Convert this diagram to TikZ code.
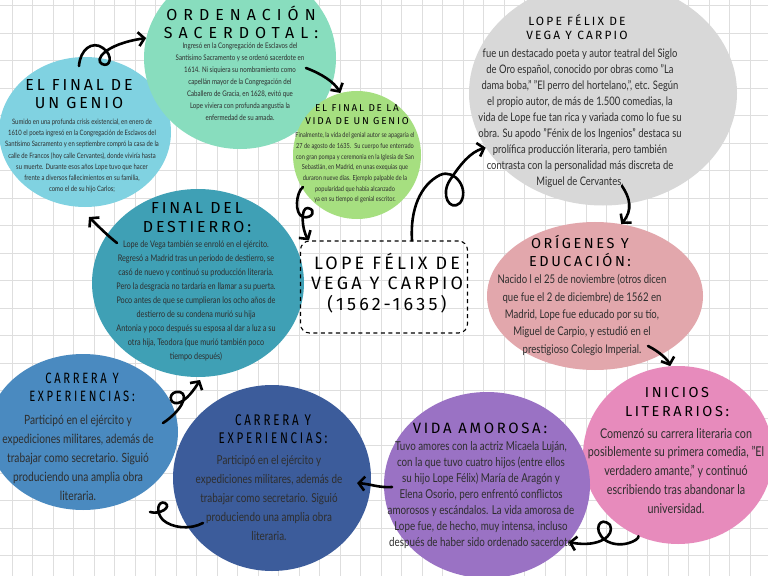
\documentclass[tikz,border=0pt]{standalone}
\usepackage{fontspec}
\setmainfont{Lato}[FakeStretch=0.8]
\newfontfamily\headfont{Fira Sans}[LetterSpace=18]
\usetikzlibrary{arrows.meta,shapes.geometric}

\definecolor{mintgreen}{HTML}{88DDBE}
\definecolor{skyblue}{HTML}{80D2E1}
\definecolor{limegreen}{HTML}{A6DF80}
\definecolor{softgray}{HTML}{D8D8D8}
\definecolor{tealblue}{HTML}{3FA0B5}
\definecolor{dustypink}{HTML}{E2A7AC}
\definecolor{rosepink}{HTML}{E78BBC}
\definecolor{steelblue}{HTML}{4A8AC0}
\definecolor{navyblue}{HTML}{3C5C9B}
\definecolor{lavender}{HTML}{9A72C4}
\definecolor{gridgray}{HTML}{DEDEDE}

\newcommand\setsz[2]{\fontsize{#1}{#2}\selectfont}

\tikzset{
  blob/.style={ellipse, inner sep=0pt},
  head/.style={align=center, inner sep=0pt, text=black},
  body/.style={align=center, inner sep=0pt, text=black!82},
  arr/.style={-{Straight Barb[length=6bp,width=14bp]}, line width=2.6bp, line cap=round, line join=round},
  mainbox/.style={draw, rounded corners=9bp, line width=1.1bp, dash pattern=on 4bp off 3.5bp,
    minimum width=167bp, minimum height=92bp, inner sep=0pt},
  gridline/.style={gridgray, line width=0.6bp}
}

\begin{document}
\begin{tikzpicture}[x=1bp, y=-1bp]
\useasboundingbox (0,0) rectangle (768,576);
\begin{scope}
\clip (0,0) rectangle (768,576);
\fill[white] (0,0) rectangle (768,576);

% grid paper
\foreach \gx in {0,...,38}
  \draw[gridline] ({-8.7+20.5*\gx},0) -- ++(0,576);
\foreach \gy in {0,...,20}
  \draw[gridline] (0,{5.7+27.5*\gy}) -- ++(768,0);

% blobs
\node[blob, fill=skyblue, minimum width=172bp, minimum height=150bp] (genio) at (85,132) {};
\node[blob, fill=mintgreen, minimum width=192bp, minimum height=182bp] (ordenacion) at (240,58) {};
\node[blob, fill=limegreen, minimum width=128bp, minimum height=128bp] (vidagenio) at (357,155) {};
\node[blob, fill=softgray, minimum width=268bp, minimum height=225bp] (lope) at (603,93) {};
\node[blob, fill=tealblue, minimum width=212bp, minimum height=188bp] (destierro) at (198,283) {};
\node[blob, fill=dustypink, minimum width=216bp, minimum height=148bp] (origenes) at (595,296) {};
\node[blob, fill=rosepink, minimum width=190bp, minimum height=178bp] (inicios) at (678,455) {};
\node[blob, fill=steelblue, minimum width=190bp, minimum height=156bp] (carreraA) at (83,432) {};
\node[blob, fill=navyblue, minimum width=198bp, minimum height=186bp] (carreraB) at (272,478) {};
\node[blob, fill=lavender, minimum width=206bp, minimum height=186bp] (amorosa) at (487,485) {};

\node[mainbox] (box) at (384,287) {};

% texts
\node[head, font={\headfont\addfontfeature{LetterSpace=38}\setsz{16}{18}}] (ordenacion-h) at (241,22) {ORDENACIÓN\\SACERDOTAL:};
\node[body, font=\setsz{7.7}{12}] (ordenacion-b) at (240,82) {Ingresó en la Congregación de Esclavos del\\
  Santísimo Sacramento y se ordenó sacerdote en\\ 1614. Ni siquiera su nombramiento como\\
  capellán mayor de la Congregación del\\ Caballero de Gracia, en 1628, evitó que\\
  Lope viviera con profunda angustia la\\ enfermedad de su amada.};

\node[head, font={\headfont\setsz{16}{18}}] (genio-h) at (79,94) {EL FINAL DE\\UN GENIO};
\node[body, font=\setsz{7.4}{11.3}] (genio-b) at (82,156) {Sumido en una profunda crisis existencial, en enero de\\
  1610 el poeta ingresó en la Congregación de Esclavos del\\ Santísimo Sacramento y en septiembre compró la casa de la\\
  calle de Francos (hoy calle Cervantes), donde viviría hasta\\ su muerte. Durante esos años Lope tuvo que hacer\\
  frente a diversos fallecimientos en su familia,\\ como el de su hijo Carlos;};

\node[head, font={\headfont\setsz{10}{13}}] (vidagenio-h) at (357,115) {EL FINAL DE LA\\VIDA DE UN GENIO};
\node[body, font=\setsz{7}{10.7}] (vidagenio-b) at (355,168) {Finalmente, la vida del genial autor se apagaría el\\
  27 de agosto de 1635. \ Su cuerpo fue enterrado\\ con gran pompa y ceremonia en la Iglesia de San\\
  Sebastián, en Madrid, en unas exequias que\\ duraron nueve días. Ejemplo palpable de la\\
  popularidad que había alcanzado\\ ya en su tiempo el genial escritor.};

\node[head, font={\headfont\setsz{12}{13.5}}] (lope-h) at (577,27) {LOPE FÉLIX DE\\VEGA Y CARPIO};
\node[body, font=\setsz{11.8}{16.1}] (lope-b) at (580,118) {fue un destacado poeta y autor teatral del Siglo\\
  de Oro español, conocido por obras como "La\\ dama boba," "El perro del hortelano,", etc. Según\\
  el propio autor, de más de 1.500 comedias, la\\ vida de Lope fue tan rica y variada como lo fue su\\
  obra. Su apodo "Fénix de los Ingenios" destaca su\\ prolífica producción literaria, pero también\\
  contrasta con la personalidad más discreta de\\ Miguel de Cervantes.};

\node[head, font={\headfont\setsz{16}{19}}] (destierro-h) at (197,218) {FINAL DEL\\DESTIERRO:};
\node[body, font=\setsz{9.1}{14}] (destierro-b) at (196,301) {Lope de Vega también se enroló en el ejército.\\
  Regresó a Madrid tras un periodo de destierro, se\\ casó de nuevo y continuó su producción literaria.\\
  Pero la desgracia no tardaría en llamar a su puerta.\\ Poco antes de que se cumplieran los ocho años de\\
  destierro de su condena murió su hija\\ Antonia y poco después su esposa al dar a luz a su\\
  otra hija, Teodora (que murió también poco\\ tiempo después)};

\node[head, font={\headfont\setsz{18}{20.5}}] (box-t) at (387,283) {LOPE FÉLIX DE\\VEGA Y CARPIO\\(1562-1635)};

\node[head, font={\headfont\setsz{14.5}{18}}] (origenes-h) at (580,251) {ORÍGENES Y\\EDUCACIÓN:};
\node[body, font=\setsz{12}{17.4}] (origenes-b) at (582,315) {Nacido l el 25 de noviembre (otros dicen\\
  que fue el 2 de diciembre) de 1562 en\\ Madrid, Lope fue educado por su tío,\\
  Miguel de Carpio, y estudió en el\\ prestigioso Colegio Imperial.};

\node[head, font={\headfont\setsz{14.5}{19}}] (inicios-h) at (677,402) {INICIOS\\LITERARIOS:};
\node[body, font=\setsz{13.5}{19}] (inicios-b) at (676,471) {Comenzó su carrera literaria con\\
  posiblemente su primera comedia, "El\\ verdadero amante," y continuó\\
  escribiendo tras abandonar la\\ universidad.};

\node[head, font={\headfont\addfontfeature{FakeStretch=0.75}\setsz{15}{18}}] (carreraA-h) at (82,387) {CARRERA Y\\EXPERIENCIAS:};
\node[body, font=\setsz{12.8}{19}] (carreraA-b) at (78,458) {Participó en el ejército y\\
  expediciones militares, además de\\ trabajar como secretario. Siguió\\
  produciendo una amplia obra\\ literaria.};

\node[head, font={\headfont\addfontfeature{FakeStretch=0.75}\setsz{15.5}{18}}] (carreraB-h) at (273,429) {CARRERA Y\\EXPERIENCIAS:};
\node[body, font=\setsz{12.4}{19.3}] (carreraB-b) at (269,498) {Participó en el ejército y\\
  expediciones militares, además de\\ trabajar como secretario. Siguió\\
  produciendo una amplia obra\\ literaria.};

\node[head, font={\headfont\setsz{15}{18}}] (amorosa-h) at (480,428) {VIDA AMOROSA:};
\node[body, font=\setsz{12.3}{16}] (amorosa-b) at (481,495) {Tuvo amores con la actriz Micaela Luján,\\
  con la que tuvo cuatro hijos (entre ellos\\ su hijo Lope Félix) María de Aragón y\\
  Elena Osorio, pero enfrentó conflictos\\ amorosos y escándalos. La vida amorosa de\\
  Lope fue, de hecho, muy intensa, incluso\\ después de haber sido ordenado sacerdote};

% connectors
\coordinate (genio-out) at (79,66);
\coordinate (ordenacion-out) at (306,68);
\coordinate (vidagenio-out) at (303,187);
\coordinate (lope-out) at (622,186);
\coordinate (origenes-out) at (648,346);
\coordinate (amorosa-out) at (392,487);
\coordinate (carreraB-in) at (357,483);
\coordinate (destierro-out) at (117,243);
\coordinate (genio-in) at (89,217);
\coordinate (carreraA-out) at (163,423);
\coordinate (destierro-in) at (200,380);
\coordinate (carreraB-out) at (203,523);
\coordinate (carreraA-in) at (150,512);

\draw[arr] (genio-out) .. controls (80,50) and (92,40) .. (103,48)
  .. controls (114,56) and (110,68) .. (102,64) .. controls (94,60) and (105,44) .. (ordenacion.168);
\draw[arr] (ordenacion-out) .. controls (322,74) and (334,82) .. (vidagenio.105);
\draw[arr] (vidagenio-out) .. controls (296,192) and (294,214) .. (303,217)
  .. controls (312,219) and (317,210) .. (308,208) .. controls (300,207) and (302,230) .. ([xshift=9bp]box.north west);
\draw[arr] ([xshift=28bp]box.north) .. controls (410,210) and (420,185) .. (440,175)
  .. controls (455,168) and (470,190) .. (460,203) .. controls (450,212) and (440,195) .. (450,180)
  .. controls (460,165) and (470,152) .. (lope.205);
\draw[arr] (lope-out) .. controls (630,198) and (633,210) .. (origenes.70);
\draw[arr] (origenes-out) .. controls (660,352) and (668,360) .. (inicios.95);
\draw[arr] (inicios.244) .. controls (640,540) and (620,550) .. (605,540)
  .. controls (592,530) and (600,515) .. (610,525) .. controls (615,535) and (600,548) .. (amorosa.-35);
\draw[arr] (amorosa-out) .. controls (380,488) and (370,484) .. (carreraB-in);
\draw[arr] (carreraA-out) .. controls (180,412) and (190,395) .. (180,392)
  .. controls (168,390) and (168,405) .. (178,403) .. controls (186,401) and (194,390) .. (destierro-in);
\draw[line width=2.6bp, line cap=round] (carreraB-out) .. controls (190,530) and (172,528) .. (163,520)
  .. controls (155,512) and (158,500) .. (165,503) .. controls (172,507) and (160,515) .. (carreraA-in);
\draw[arr] (destierro-out) .. controls (108,236) and (98,226) .. (genio-in);
\end{scope}
\end{tikzpicture}
\end{document}
